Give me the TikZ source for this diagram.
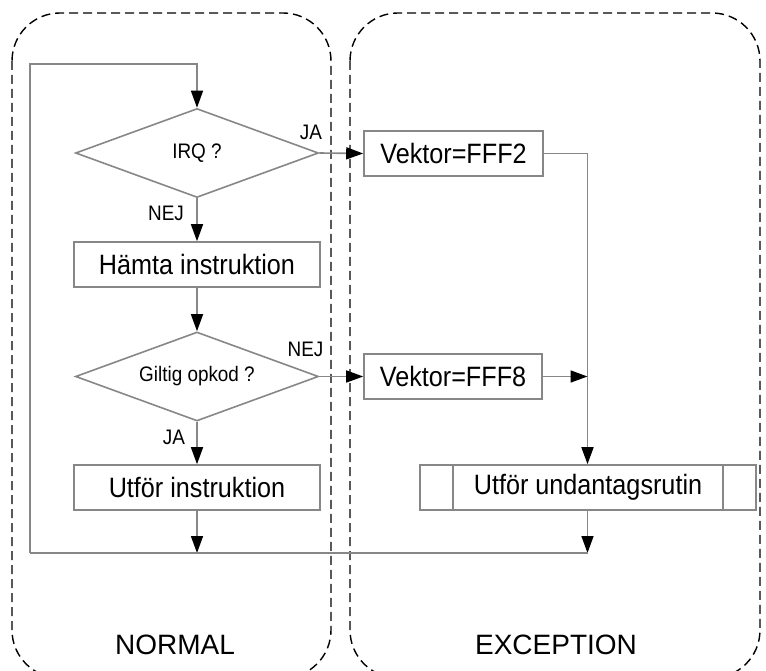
\documentclass[tikz,border=0pt]{standalone}
\usepackage{fontspec}
\setmainfont{Liberation Sans}
\newfontfamily\narrowfont[FakeStretch=0.9]{Liberation Sans}
\usetikzlibrary{shapes.geometric,arrows.meta}
\definecolor{linegray}{RGB}{135,135,135}
\begin{document}
\begin{tikzpicture}[x=1pt,y=-1pt,
  region/.style={draw=black, line width=1.4pt, dash pattern=on 9pt off 5pt, rounded corners=48pt},
  dec/.style={diamond, draw=linegray, line width=1.6pt, minimum width=243pt, minimum height=89pt, inner sep=0pt, aspect=2.73, font=\narrowfont\fontsize{21}{23}\selectfont},
  proc/.style={rectangle, draw=linegray, line width=1.6pt, minimum width=246pt, minimum height=45pt, inner sep=0pt, font=\narrowfont\fontsize{28}{30}\selectfont},
  conn/.style={draw=linegray, line width=1.6pt},
  arr/.style={-{Triangle[length=17pt,width=12pt,black]}},
  lbl/.style={inner sep=0pt, font=\narrowfont\fontsize{21}{23}\selectfont},
  big/.style={inner sep=0pt, font=\fontsize{28}{30}\selectfont}]
\useasboundingbox (0,0) rectangle (766,671);
\begin{scope}
\clip (0,0) rectangle (766,671);
\draw[region] (12,13) rectangle (331,678);
\draw[region] (350,13) rectangle (760,678);
\end{scope}

\node[dec] (irq) at (197,153) {IRQ ?};
\node[proc] (hamta) at (197,264.5) {Hämta instruktion};
\node[dec] (gilt) at (197,376.5) {Giltig opkod ?};
\node[proc] (utfor) at (197,487.5) {Utför instruktion};
\node[proc, minimum width=179pt] (v2) at (453.5,153.5) {Vektor=FFF2};
\node[proc, minimum width=178pt] (v8) at (453,376.5) {Vektor=FFF8};
\node[proc, minimum width=336pt] (und) at (588,487.5) {Utför undantagsrutin};
\draw[conn] ([xshift=34pt]und.north west) -- ([xshift=34pt]und.south west);
\draw[conn] ([xshift=-34pt]und.north east) -- ([xshift=-34pt]und.south east);

\coordinate (jn) at (197,553);
\coordinate (kn) at (587.5,553);
\coordinate (bl) at (30,553);
\coordinate (tl) at (30,64);
\coordinate (tm) at (197,64);
\coordinate (v2r) at (587.5,153.5);
\coordinate (v8r) at (587.5,376.5);

\draw[conn,arr] (bl) -- (tl) -- (tm) -- (irq.north);
\draw[conn,arr] (irq.south) -- (hamta.north);
\draw[conn,arr] (hamta.south) -- (gilt.north);
\draw[conn,arr] (gilt.south) -- (utfor.north);
\draw[conn,arr] (utfor.south) -- (jn);
\draw[conn,arr] (und.south -| kn) -- (kn);
\draw[conn] (kn) -- (bl);
\draw[conn,arr] (irq.east) -- (v2.west);
\draw[conn,arr] (gilt.east) -- (v8.west);
\draw[conn,arr] (v2.east) -- (v2r) -- (v2r |- und.north);
\draw[conn,arr] (v8.east) -- (v8r);

\node[lbl] (ja1) at (311,132) {JA};
\node[lbl] (nej1) at (166,213) {NEJ};
\node[lbl] (nej2) at (305.5,349) {NEJ};
\node[lbl] (ja2) at (174,437) {JA};
\node[big] (normal) at (175,645) {NORMAL};
\node[big] (exc) at (556,645) {EXCEPTION};
\end{tikzpicture}
\end{document}
